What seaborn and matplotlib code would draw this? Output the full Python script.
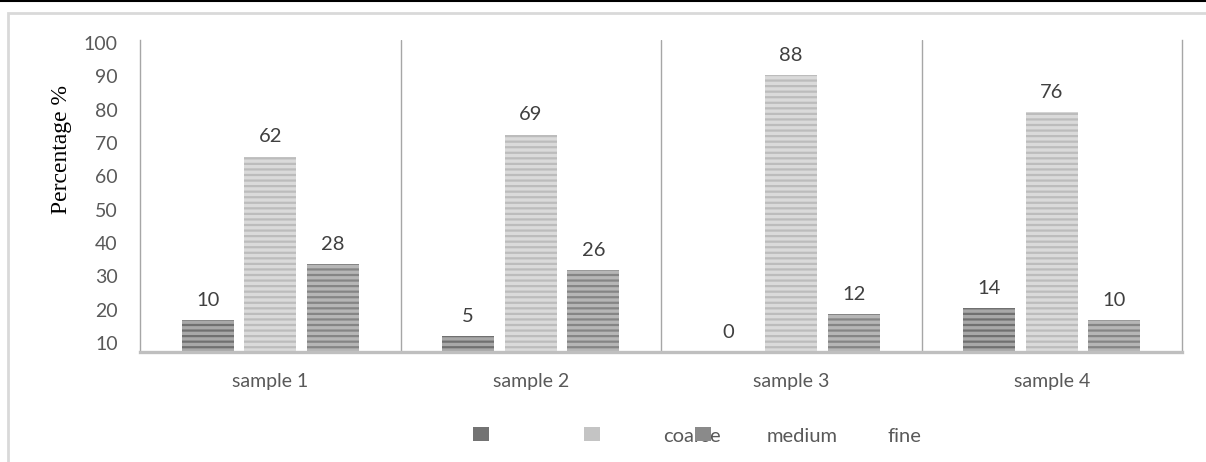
import matplotlib
matplotlib.use("Agg")
import matplotlib.pyplot as plt
from matplotlib.patches import Patch, Rectangle
from matplotlib.lines import Line2D
import numpy as np
import pandas as pd
import seaborn as sns

samples = ["sample 1", "sample 2", "sample 3", "sample 4"]
sizes = ["coarse", "medium", "fine"]
coarse = [10, 5, 0, 14]
medium = [62, 69, 88, 76]
fine = [28, 26, 12, 10]
ytick_labels = ["10", "20", "30", "40", "50", "60", "70", "80", "90", "100"]

rows = []
for i, s in enumerate(samples):
    rows.append({"sample": s, "size": "coarse", "value": coarse[i]})
    rows.append({"sample": s, "size": "medium", "value": medium[i]})
    rows.append({"sample": s, "size": "fine", "value": fine[i]})
data = pd.DataFrame(rows)

sns.set_style("white")
plt.rcParams["font.family"] = ["Lato", "DejaVu Sans"]
plt.rcParams["hatch.linewidth"] = 1.6

faces = {"coarse": "#a8a8a8", "medium": "#dadada", "fine": "#b6b6b6"}
hatch_cols = {"coarse": "#707070", "medium": "#bcbcbc", "fine": "#858585"}
legend_cols = ["#737373", "#c4c4c4", "#8a8a8a"]

fig = plt.figure(figsize=(12.06, 4.62), dpi=100)
ax = fig.add_axes([140 / 1206, 110 / 462, 1042 / 1206, 312 / 462])

sns.barplot(data=data, x="sample", y="value", hue="size", hue_order=sizes,
            order=samples, palette=faces, width=0.72, gap=0.17,
            errorbar=None, legend=False, ax=ax)

for cont, sz in zip(ax.containers, sizes):
    for bar in cont:
        bar.set_facecolor(faces[sz])
        bar.set_edgecolor(hatch_cols[sz])
        bar.set_linewidth(0)
        bar.set_hatch("---")
    ax.bar_label(cont, labels=[str(int(b.get_height())) for b in cont],
                 padding=8, fontsize=14.5, color="#404040")

ax.set_xlim(-0.5, 3.5)
ax.set_ylim(0, 99)
ax.set_yticks(np.linspace(2.9, 98.1, 10))
ax.set_yticklabels(ytick_labels)
ax.tick_params(axis="both", length=0, labelsize=14, colors="#595959")
ax.tick_params(axis="x", pad=15)
ax.tick_params(axis="y", pad=16)
ax.set_xlabel("")
ax.set_ylabel("")

for x in [0.5, 1.5, 2.5]:
    ax.axvline(x, color="#a6a6a6", lw=1.0)
for side in ["left", "right"]:
    ax.spines[side].set_color("#a6a6a6")
    ax.spines[side].set_linewidth(1.0)
ax.spines["top"].set_visible(False)
ax.spines["bottom"].set_color("#bfbfbf")
ax.spines["bottom"].set_linewidth(2.4)

fig.text(62 / 1206, 1 - 150 / 462, "Percentage %", rotation=90,
         ha="center", va="center", fontsize=17, family="Liberation Serif",
         color="#000000")

handles = [Patch(facecolor=c, edgecolor="none") for c in legend_cols]
fig.legend(handles, ["", "", ""], ncol=3, loc="center",
           bbox_to_anchor=(592 / 1206, 1 - 435 / 462), frameon=False,
           handlelength=0.85, handleheight=0.85, handletextpad=0,
           columnspacing=5.3, fontsize=13)
for lab, xp in zip(sizes, [663, 767, 888]):
    fig.text(xp / 1206, 1 - 437 / 462, lab, ha="left", va="center",
             fontsize=14.5, color="#595959")

fig.patches.append(Rectangle((8 / 1206, -0.05), 1.2, 1 - 13 / 462 + 0.05,
                             transform=fig.transFigure, fill=False,
                             edgecolor="#d9d9d9", lw=2, zorder=-1))
fig.add_artist(Line2D([0, 1], [1 - 0.5 / 462, 1 - 0.5 / 462],
                      color="black", lw=1.5, transform=fig.transFigure))

fig.savefig("out.png", dpi=100)
